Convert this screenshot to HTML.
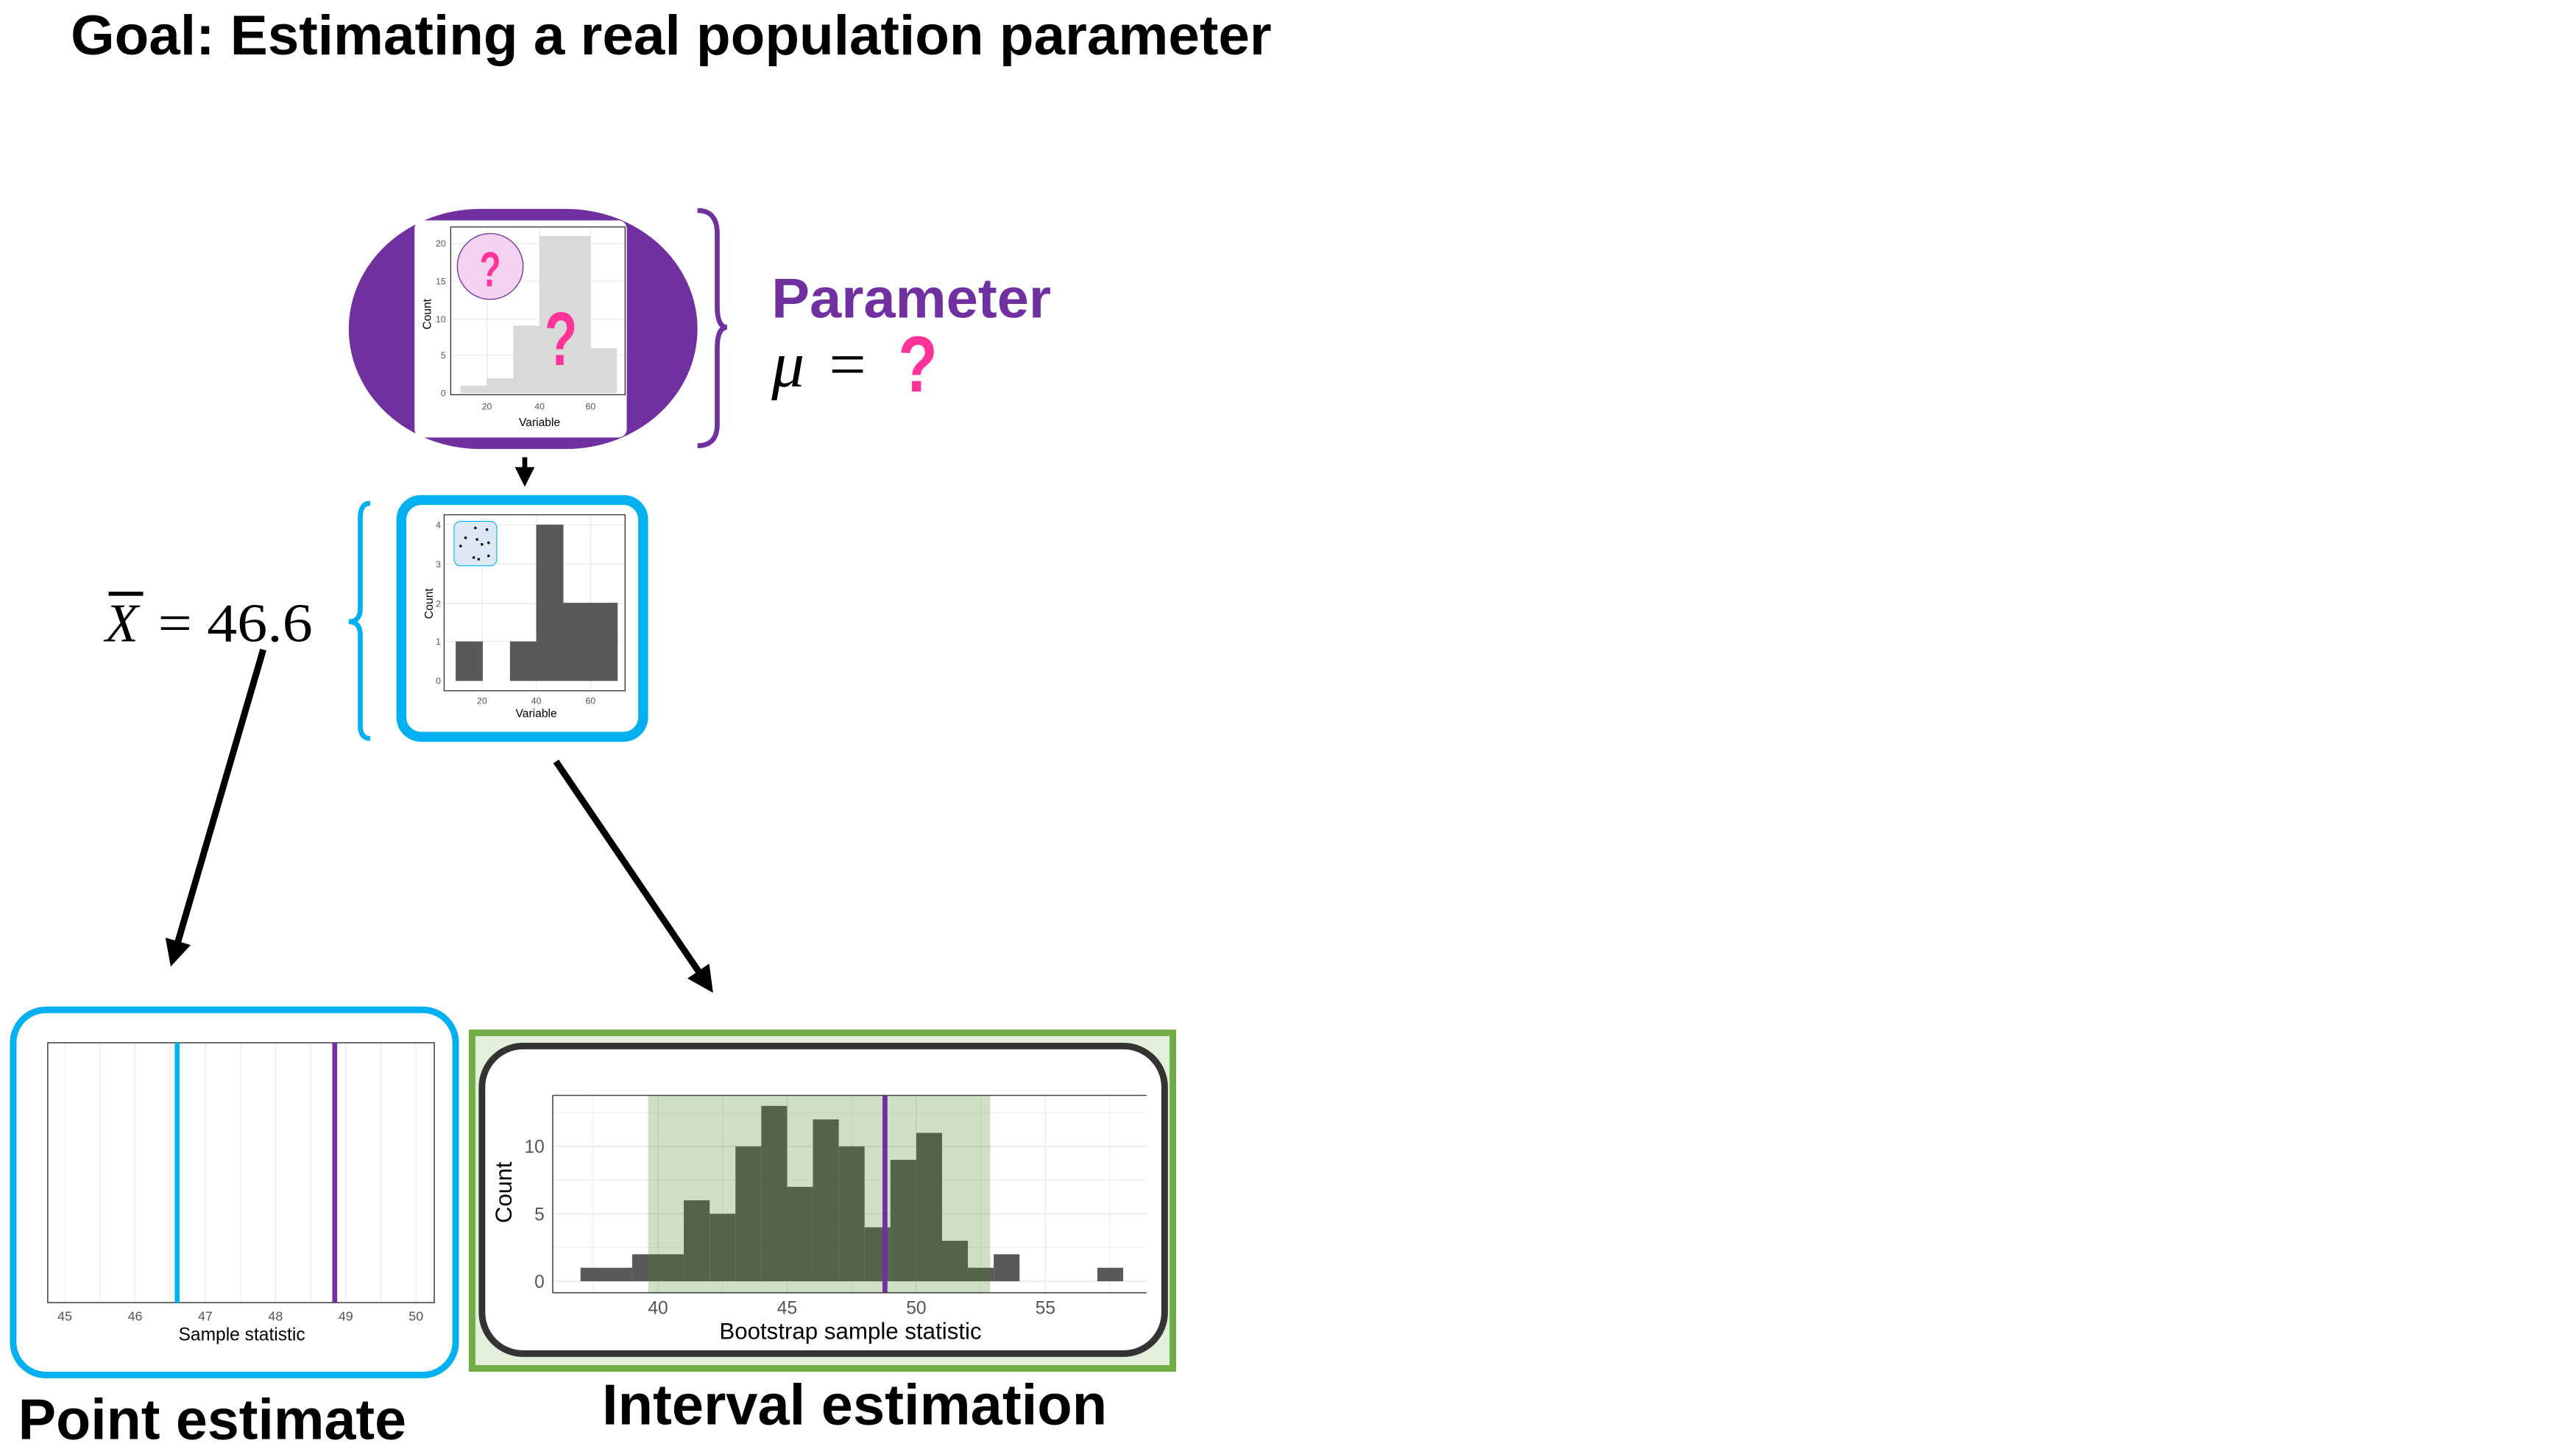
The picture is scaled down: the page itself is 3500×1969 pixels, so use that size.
<!DOCTYPE html>
<html><head><meta charset="utf-8"><style>html,body{margin:0;padding:0;background:#fff;}svg{display:block;}</style></head>
<body>
<svg xmlns="http://www.w3.org/2000/svg" width="3500" height="1969" viewBox="0 0 1566 881" font-family="Liberation Sans, sans-serif">
<rect width="1566" height="881" fill="#fff"/>
<defs>
<marker id="ah" markerWidth="4" markerHeight="4" refX="2" refY="2" orient="auto" markerUnits="strokeWidth"><path d="M0,0 L4,2 L0,4 z" fill="#000"/></marker>
</defs>
<text x="43" y="33" font-size="34" font-weight="bold" textLength="730" lengthAdjust="spacingAndGlyphs">Goal: Estimating a real population parameter</text>

<!-- population -->
<rect x="212" y="127" width="212" height="146" rx="80" ry="73" fill="#7030a0"/>
<rect x="252" y="134" width="129" height="132" rx="5" fill="#fff"/>
<g stroke="#ebebeb" stroke-width="0.6">
<line x1="296" y1="138" x2="296" y2="240"/><line x1="328" y1="138" x2="328" y2="240"/><line x1="359" y1="138" x2="359" y2="240"/>
<line x1="274" y1="148" x2="380" y2="148"/><line x1="274" y1="171" x2="380" y2="171"/><line x1="274" y1="194" x2="380" y2="194"/><line x1="274" y1="216" x2="380" y2="216"/>
</g>
<g fill="#d9d9d9">
<rect x="280" y="234.5" width="16" height="4.5"/><rect x="296" y="230" width="16" height="9"/><rect x="312" y="198" width="16" height="41"/><rect x="328" y="143.5" width="31" height="95.5"/><rect x="359" y="211.7" width="16" height="27.3"/>
</g>
<rect x="274" y="138" width="106" height="102" fill="none" stroke="#333" stroke-width="0.6"/>
<g font-size="5.5" fill="#555" text-anchor="end"><text x="271" y="150">20</text><text x="271" y="173">15</text><text x="271" y="196">10</text><text x="271" y="218">5</text><text x="271" y="241">0</text></g>
<g font-size="5.5" fill="#555" text-anchor="middle"><text x="296" y="249">20</text><text x="328" y="249">40</text><text x="359" y="249">60</text></g>
<text x="328" y="259" font-size="7" text-anchor="middle">Variable</text>
<text transform="translate(262,191) rotate(-90)" font-size="7" text-anchor="middle">Count</text>
<circle cx="298" cy="162" r="20" fill="#f4d3f0" stroke="#7030a0" stroke-width="0.6"/>
<text x="298" y="174" font-size="30" font-weight="bold" fill="#ff3399" text-anchor="middle" textLength="13" lengthAdjust="spacingAndGlyphs">?</text>
<text x="341" y="222" font-size="46" font-weight="bold" fill="#ff3399" text-anchor="middle" textLength="20" lengthAdjust="spacingAndGlyphs">?</text>
<path d="M424,128 Q436,128 436,142 L436,186 Q436,199 442,199 Q436,199 436,212 L436,258 Q436,271 424,271" fill="none" stroke="#7030a0" stroke-width="3"/>
<text x="469" y="193" font-size="34" font-weight="bold" fill="#7030a0" textLength="170" lengthAdjust="spacingAndGlyphs">Parameter</text>
<text x="469" y="235" font-size="40" font-family="Liberation Serif, serif" font-style="italic">μ</text>
<text x="504" y="235" font-size="40" font-family="Liberation Serif, serif">=</text>
<text x="546" y="238" font-size="48" font-weight="bold" fill="#ff3399" textLength="24" lengthAdjust="spacingAndGlyphs">?</text>

<line x1="319" y1="278" x2="319" y2="290" stroke="#000" stroke-width="3" marker-end="url(#ah)"/>

<!-- sample -->
<rect x="244" y="304" width="147" height="144" rx="12" fill="#fff" stroke="#00b0f0" stroke-width="6"/>
<g stroke="#ebebeb" stroke-width="0.6">
<line x1="293" y1="313" x2="293" y2="420"/><line x1="326" y1="313" x2="326" y2="420"/><line x1="359" y1="313" x2="359" y2="420"/>
<line x1="270" y1="319" x2="380" y2="319"/><line x1="270" y1="343" x2="380" y2="343"/><line x1="270" y1="367" x2="380" y2="367"/><line x1="270" y1="390" x2="380" y2="390"/>
</g>
<g fill="#595959"><rect x="277" y="390" width="16.5" height="24"/><rect x="310" y="390" width="16.5" height="24"/><rect x="326" y="319" width="16.5" height="95"/><rect x="342.5" y="366.5" width="33" height="47.5"/></g>
<rect x="270" y="313" width="110" height="107" fill="none" stroke="#333" stroke-width="0.6"/>
<g font-size="5.5" fill="#555" text-anchor="end"><text x="268" y="321">4</text><text x="268" y="345">3</text><text x="268" y="369">2</text><text x="268" y="392">1</text><text x="268" y="416">0</text></g>
<g font-size="5.5" fill="#555" text-anchor="middle"><text x="293" y="428">20</text><text x="326" y="428">40</text><text x="359" y="428">60</text></g>
<text x="326" y="436" font-size="7" text-anchor="middle">Variable</text>
<text transform="translate(263,367) rotate(-90)" font-size="7" text-anchor="middle">Count</text>
<rect x="276" y="317" width="26" height="27" rx="4" fill="#dce9f5" stroke="#00b0f0" stroke-width="0.5"/>
<g fill="#000"><circle cx="289" cy="321" r="0.8"/><circle cx="296" cy="322" r="0.8"/><circle cx="283" cy="327" r="0.8"/><circle cx="290" cy="328" r="0.8"/><circle cx="297" cy="330" r="0.8"/><circle cx="293" cy="331" r="0.8"/><circle cx="280" cy="332" r="0.8"/><circle cx="288" cy="339" r="0.8"/><circle cx="291" cy="340" r="0.8"/><circle cx="297" cy="338" r="0.8"/></g>
<path d="M225,306 Q219,306 219,315 L219,370 Q219,378 212,378 Q219,378 219,386 L219,441 Q219,449 225,449" fill="none" stroke="#00b0f0" stroke-width="3"/>
<text x="64" y="390" font-size="33" font-family="Liberation Serif, serif" font-style="italic">X</text>
<line x1="66" y1="361" x2="87" y2="361" stroke="#000" stroke-width="2.5"/>
<text x="96" y="390" font-size="33" font-family="Liberation Serif, serif" textLength="94" lengthAdjust="spacingAndGlyphs">= 46.6</text>

<line x1="160" y1="395" x2="106" y2="580" stroke="#000" stroke-width="4" marker-end="url(#ah)"/>
<line x1="338" y1="463" x2="429" y2="597" stroke="#000" stroke-width="4" marker-end="url(#ah)"/>

<!-- point estimate -->
<rect x="8" y="614" width="269" height="222" rx="20" fill="#fff" stroke="#00b0f0" stroke-width="4"/>
<g stroke="#ebebeb" stroke-width="0.6">
<line x1="39.4" y1="634" x2="39.4" y2="792"/><line x1="60.8" y1="634" x2="60.8" y2="792"/><line x1="82.1" y1="634" x2="82.1" y2="792"/><line x1="103.5" y1="634" x2="103.5" y2="792"/><line x1="124.8" y1="634" x2="124.8" y2="792"/><line x1="146.2" y1="634" x2="146.2" y2="792"/><line x1="167.5" y1="634" x2="167.5" y2="792"/><line x1="188.9" y1="634" x2="188.9" y2="792"/><line x1="210.2" y1="634" x2="210.2" y2="792"/><line x1="231.6" y1="634" x2="231.6" y2="792"/><line x1="252.9" y1="634" x2="252.9" y2="792"/>
</g>
<rect x="29" y="634" width="235" height="158" fill="none" stroke="#444" stroke-width="0.7"/>
<line x1="107.7" y1="634" x2="107.7" y2="792" stroke="#00b0f0" stroke-width="3"/>
<line x1="203.5" y1="634" x2="203.5" y2="792" stroke="#7030a0" stroke-width="3"/>
<g font-size="8" fill="#555" text-anchor="middle"><text x="39.4" y="803">45</text><text x="82.1" y="803">46</text><text x="124.8" y="803">47</text><text x="167.5" y="803">48</text><text x="210.2" y="803">49</text><text x="252.9" y="803">50</text></g>
<text x="147" y="815" font-size="11" text-anchor="middle">Sample statistic</text>
<text x="11" y="875" font-size="35" font-weight="bold" textLength="236" lengthAdjust="spacingAndGlyphs">Point estimate</text>

<!-- interval -->
<rect x="287" y="628" width="426" height="204" fill="#e2efda" stroke="#70ad47" stroke-width="4"/>
<rect x="293" y="636" width="415" height="187" rx="25" fill="#fff" stroke="#333" stroke-width="4"/>
<g stroke="#ebebeb" stroke-width="0.8">
<line x1="400" y1="666" x2="400" y2="786"/><line x1="478.5" y1="666" x2="478.5" y2="786"/><line x1="557" y1="666" x2="557" y2="786"/><line x1="635.5" y1="666" x2="635.5" y2="786"/>
<line x1="360.8" y1="666" x2="360.8" y2="786" stroke-width="0.4"/><line x1="439.3" y1="666" x2="439.3" y2="786" stroke-width="0.4"/><line x1="517.8" y1="666" x2="517.8" y2="786" stroke-width="0.4"/><line x1="596.3" y1="666" x2="596.3" y2="786" stroke-width="0.4"/><line x1="674.8" y1="666" x2="674.8" y2="786" stroke-width="0.4"/>
<line x1="336" y1="779" x2="697" y2="779"/><line x1="336" y1="738" x2="697" y2="738"/><line x1="336" y1="697" x2="697" y2="697"/>
<line x1="336" y1="758.5" x2="697" y2="758.5" stroke-width="0.4"/><line x1="336" y1="717.5" x2="697" y2="717.5" stroke-width="0.4"/><line x1="336" y1="676.5" x2="697" y2="676.5" stroke-width="0.4"/>
</g>
<g fill="#595959">
<rect x="352.9" y="770.8" width="31.4" height="8.2"/>
<rect x="384.3" y="762.6" width="31.4" height="16.4"/>
<rect x="415.7" y="729.8" width="15.7" height="49.2"/>
<rect x="431.4" y="738" width="15.7" height="41"/>
<rect x="447.1" y="697" width="15.7" height="82"/>
<rect x="462.8" y="672.4" width="15.7" height="106.6"/>
<rect x="478.5" y="721.6" width="15.7" height="57.4"/>
<rect x="494.2" y="680.6" width="15.7" height="98.4"/>
<rect x="509.9" y="697" width="15.7" height="82"/>
<rect x="525.6" y="746.2" width="15.7" height="32.8"/>
<rect x="541.3" y="705.2" width="15.7" height="73.8"/>
<rect x="557" y="688.8" width="15.7" height="90.2"/>
<rect x="572.7" y="754.4" width="15.7" height="24.6"/>
<rect x="588.4" y="770.8" width="15.7" height="8.2"/>
<rect x="604.1" y="762.6" width="15.7" height="16.4"/>
<rect x="667.1" y="770.8" width="15.7" height="8.2"/>
</g>
<rect x="394" y="666" width="208" height="120" fill="rgb(63,136,32)" fill-opacity="0.26"/>
<line x1="538" y1="666" x2="538" y2="786" stroke="#7030a0" stroke-width="3"/>
<line x1="336" y1="666" x2="697" y2="666" stroke="#444" stroke-width="0.7"/>
<line x1="336" y1="666" x2="336" y2="786" stroke="#444" stroke-width="0.7"/>
<line x1="336" y1="786" x2="697" y2="786" stroke="#444" stroke-width="0.7"/>
<g font-size="11" fill="#555" text-anchor="end"><text x="331" y="701">10</text><text x="331" y="742">5</text><text x="331" y="783">0</text></g>
<g font-size="11" fill="#555" text-anchor="middle"><text x="400" y="799">40</text><text x="478.5" y="799">45</text><text x="557" y="799">50</text><text x="635.5" y="799">55</text></g>
<text x="517" y="814" font-size="14" text-anchor="middle">Bootstrap sample statistic</text>
<text transform="translate(311,725) rotate(-90)" font-size="14" text-anchor="middle">Count</text>
<text x="366" y="866" font-size="35" font-weight="bold" textLength="307" lengthAdjust="spacingAndGlyphs">Interval estimation</text>
</svg>
</body></html>
